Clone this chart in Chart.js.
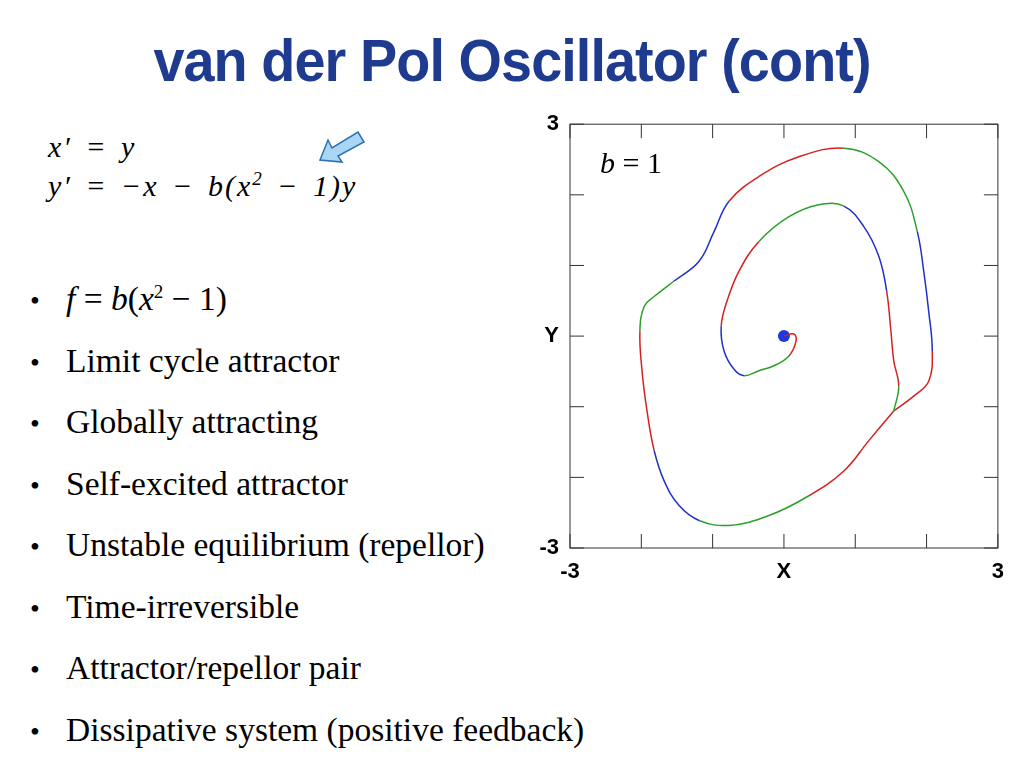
<!DOCTYPE html>
<html><head><meta charset="utf-8">
<script src="https://cdn.jsdelivr.net/npm/chart.js@4/dist/chart.umd.min.js"></script>
<style>
body{margin:0;width:1024px;height:768px;background:#fff;position:relative;overflow:hidden;font-family:"Liberation Serif",serif}
h1{position:absolute;left:0;width:1024px;top:26px;margin:0;text-align:center;font:bold 60px "Liberation Sans Narrow","Liberation Sans",sans-serif;color:#1f3b8f;transform:scaleX(0.93);letter-spacing:-1px}
.eq{position:absolute;left:48px;font-size:30px;font-style:italic;letter-spacing:2px;word-spacing:4px}
ul{position:absolute;left:30px;top:280px;margin:0;padding:0;list-style:none;font-size:33.5px}
ul li{height:61.5px;white-space:nowrap}
ul li:before{content:"•";display:inline-block;width:36px;font-size:28px}
#wrap{position:absolute;left:540px;top:108px;width:467px;height:470px}
.b{position:absolute;left:600px;top:146px;font-size:30px}
</style></head><body>
<h1>van der Pol Oscillator (cont)</h1>
<div class="eq" style="top:130px">x′ = y</div>
<div class="eq" style="top:168px">y′ = −x − b(x<sup style="font-size:19px">2</sup> − 1)y</div>
<svg style="position:absolute;left:316px;top:126px" width="52" height="42"><polygon points="4,34 12,14 16,22 42,6 48,16 22,30 26,36" fill="#a9d6f5" stroke="#2f6fb0" stroke-width="1.5"/></svg>
<ul>
<li><i>f</i> = <i>b</i>(<i>x</i><sup style="font-size:19px">2</sup> − 1)</li>
<li>Limit cycle attractor</li>
<li>Globally attracting</li>
<li>Self-excited attractor</li>
<li>Unstable equilibrium (repellor)</li>
<li>Time-irreversible</li>
<li>Attractor/repellor pair</li>
<li>Dissipative system (positive feedback)</li>
</ul>
<div id="wrap"><canvas id="c"></canvas></div>
<div class="b"><i>b</i> = 1</div>
<script>
var spiralX=[0,0.14,0.17,0.07,-0.14,-0.35,-0.56,-0.70,-0.84,-0.88,-0.80,-0.63,-0.35,0.07,0.49,0.84,1.12,1.33,1.44,1.50,1.54,1.61,1.54];
var spiralY=[0,0.03,-0.07,-0.28,-0.42,-0.49,-0.56,-0.47,-0.21,0.14,0.49,0.92,1.34,1.69,1.86,1.84,1.55,1.13,0.64,0.07,-0.35,-0.71,-1.06];
var cycleX=[1.54,1.19,0.84,0.35,-0.21,-0.77,-1.19,-1.47,-1.68,-1.82,-1.92,-1.99,-2.02,-1.96,-1.82,-1.54,-1.19,-0.98,-0.77,-0.35,0.21,0.84,1.33,1.68,1.87,1.96,2.03,2.08,2.03,1.82,1.54];
var cycleY=[-1.06,-1.48,-1.91,-2.26,-2.54,-2.68,-2.61,-2.40,-2.05,-1.62,-1.06,-0.49,0.07,0.42,0.56,0.78,1.06,1.48,1.91,2.26,2.54,2.66,2.47,2.05,1.48,0.92,0.35,-0.21,-0.64,-0.85,-1.06];
var tickVals=[-3,-2,-1,0,1,2,3];

function pts(xs,ys){return xs.map(function(x,i){return {x:x,y:ys[i]};});}
var cols=['#d62020','#2aa02a','#2030c8'];
var seg={borderColor:function(ctx){return cols[Math.floor(ctx.p0DataIndex/3)%3];}};

var innerTicks={id:'innerTicks',afterDraw:function(chart){
  var c=chart.ctx,a=chart.chartArea,sx=chart.scales.x,sy=chart.scales.y;
  c.save();c.strokeStyle='#333';c.lineWidth=1;
  c.strokeRect(a.left,a.top,a.right-a.left,a.bottom-a.top);
  tickVals.forEach(function(v){
    var px=sx.getPixelForValue(v),py=sy.getPixelForValue(v);
    c.beginPath();
    c.moveTo(px,a.top);c.lineTo(px,a.top+14);
    c.moveTo(px,a.bottom);c.lineTo(px,a.bottom-14);
    c.moveTo(a.left,py);c.lineTo(a.left+14,py);
    c.moveTo(a.right,py);c.lineTo(a.right-14,py);
    c.stroke();
  });
  c.restore();
}};

function lab(v){return v===-3?'-3':v===3?'3':'';}
new Chart(document.getElementById('c'),{
  type:'scatter',
  data:{datasets:[
    {data:pts(spiralX,spiralY),showLine:true,pointRadius:0,borderWidth:1.5,tension:0.4,segment:seg},
    {data:pts(cycleX,cycleY),showLine:true,pointRadius:0,borderWidth:1.5,tension:0.4,segment:seg},
    {data:[{x:0,y:0}],pointRadius:6,backgroundColor:'#1a3ae0',borderWidth:0}
  ]},
  options:{animation:false,responsive:true,maintainAspectRatio:false,
    layout:{padding:{top:10,right:2}},
    plugins:{legend:{display:false},tooltip:{enabled:false}},
    scales:{
      x:{min:-3,max:3,afterBuildTicks:function(s){s.ticks=tickVals.map(function(v){return {value:v};});},
        afterFit:function(s){s.height=30;},grid:{display:false},border:{display:false},
        ticks:{maxRotation:0,autoSkip:false,color:'#000',font:{family:'Liberation Sans',weight:'bold',size:22},
          callback:function(v){return v===0?'X':lab(v);}}},
      y:{min:-3,max:3,afterBuildTicks:function(s){s.ticks=tickVals.map(function(v){return {value:v};});},
        afterFit:function(s){s.width=30;},grid:{display:false},border:{display:false},
        ticks:{autoSkip:false,color:'#000',font:{family:'Liberation Sans',weight:'bold',size:22},
          callback:function(v){return v===0?'Y':lab(v);}}}
    }},
  plugins:[innerTicks]
});
</script>
</body></html>
